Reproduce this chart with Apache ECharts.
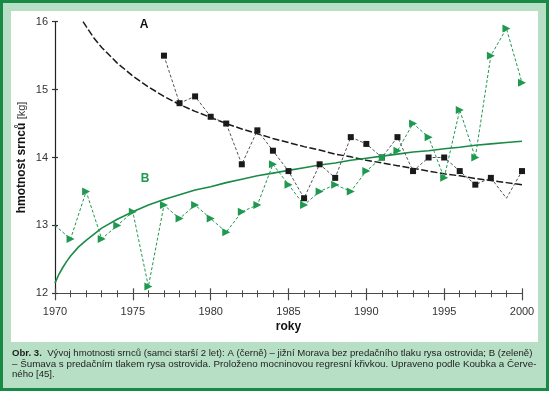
<!DOCTYPE html>
<html><head><meta charset="utf-8">
<script src="https://cdn.jsdelivr.net/npm/echarts@6/dist/echarts.min.js"></script>
<style>html,body{margin:0;padding:0;background:#fff}#c{width:550px;height:395px}</style>
</head><body><div id="c"></div>
<script>
// Data series A (black, southern Moravia)
const yearsA = [1977,1978,1979,1980,1981,1982,1983,1984,1985,1986,1987,1988,1989,1990,1991,1992,1993,1994,1995,1996,1997,1998,1999,2000];
const valuesA = [15.5,14.8,14.9,14.6,14.5,13.9,14.4,14.1,13.8,13.4,13.9,13.7,14.3,14.2,14.0,14.3,13.8,14.0,14.0,13.8,13.6,13.7,13.4,13.8];
// Data series B (green, Šumava)
const yearsB = [1970,1971,1972,1973,1974,1975,1976,1977,1978,1979,1980,1981,1982,1983,1984,1985,1986,1987,1988,1989,1990,1991,1992,1993,1994,1995,1996,1997,1998,1999,2000];
const valuesB = [13.0,12.8,13.5,12.8,13.0,13.2,12.1,13.3,13.1,13.3,13.1,12.9,13.2,13.3,13.9,13.6,13.3,13.5,13.6,13.5,13.8,14.0,14.1,14.5,14.3,13.7,14.7,14.0,15.5,15.9,15.1];
// Fitted power curves
const trendAYears = [1971.8,1972,1972.5,1973,1974,1975,1976,1977,1978,1979,1980,1981,1982,1983,1984,1985,1986,1987,1988,1989,1990,1991,1992,1993,1994,1995,1996,1997,1998,1999,2000];
const trendAValues = [16.0,15.93,15.76,15.62,15.39,15.20,15.04,14.90,14.78,14.68,14.59,14.50,14.42,14.35,14.28,14.22,14.16,14.11,14.05,14.01,13.96,13.92,13.88,13.84,13.80,13.76,13.73,13.69,13.66,13.63,13.60];
const trendBYears = [1970,1970.25,1970.5,1970.75,1971,1971.5,1972,1973,1974,1975,1976,1977,1978,1979,1980,1981,1982,1983,1984,1985,1986,1987,1988,1989,1990,1991,1992,1993,1994,1995,1996,1997,1998,1999,2000];
const trendBValues = [12.15,12.28,12.38,12.47,12.55,12.68,12.78,12.96,13.09,13.20,13.30,13.38,13.45,13.52,13.57,13.63,13.68,13.73,13.77,13.81,13.85,13.89,13.92,13.96,13.99,14.02,14.05,14.08,14.10,14.13,14.15,14.18,14.20,14.22,14.24];
// Axis ticks
const xTicks = [1970,1975,1980,1985,1990,1995,2000];
const yTicks = [12,13,14,15,16];
// No marker drawn at these points in the original
const noMarkerA = [1999];
const noMarkerB = [1970];
const squareMarkerB = [1991];

const GREEN = '#1f9850';
const GREEN_DARK = '#1a8b47';
const FONT = '"Liberation Sans", Arial, sans-serif';

const chart = echarts.init(document.getElementById('c'), null, {renderer:'canvas'});

const dataA = yearsA.map((y,i)=> noMarkerA.includes(y) ? {value:[y,valuesA[i]], symbol:'none'} : [y,valuesA[i]]);
const dataB = yearsB.map((y,i)=> {
  if (noMarkerB.includes(y)) return {value:[y,valuesB[i]], symbol:'none'};
  if (squareMarkerB.includes(y)) return {value:[y,valuesB[i]], symbol:'rect', symbolRotate:0, symbolSize:6};
  return [y,valuesB[i]];
});

const xBase = {type:'value', min:xTicks[0], max:xTicks[xTicks.length-1], splitLine:{show:false}, gridIndex:0, position:'bottom'};
const yBase = {type:'value', min:yTicks[0], max:yTicks[yTicks.length-1], interval:1, splitLine:{show:false}, gridIndex:0, position:'left'};
const tickColor = '#4a4a4a';

const caption1 = '{b|Obr. 3.}  Vývoj hmotnosti srnců (samci starší 2 let): A (černě) – jižní Morava bez predačního tlaku rysa ostrovida; B (zeleně)';
const caption2 = '– Šumava s predačním tlakem rysa ostrovida. Proloženo mocninovou regresní křivkou. Upraveno podle Koubka a Červe-';
const caption3 = 'ného [45].';

const capFont = '"Liberation Sans Narrow", "Arial Narrow", '+FONT;
const capStyle = {fontFamily:capFont, fontSize:9.6, fill:'#1e1e1e', textVerticalAlign:'middle'};

chart.setOption({
  animation:false,
  grid:{left:55, top:21.7, right:28, bottom:101.7},
  graphic:[
    {type:'rect', z:-10, shape:{x:1.5,y:1.5,width:546,height:388}, style:{fill:'#b6dfc6', stroke:'#178a45', lineWidth:3}},
    {type:'rect', z:-9, shape:{x:11,y:11,width:527,height:331}, style:{fill:'#ffffff'}},
    {type:'text', x:144, y:25, style:{text:'A', fontFamily:FONT, fontWeight:'bold', fontSize:12, fill:'#111', textAlign:'center', textVerticalAlign:'middle'}},
    {type:'text', x:145, y:179, style:{text:'B', fontFamily:FONT, fontWeight:'bold', fontSize:12, fill:GREEN, textAlign:'center', textVerticalAlign:'middle'}},
    {type:'text', x:12, y:353, style:Object.assign({text:caption1, rich:{b:{fontWeight:'bold', fontFamily:capFont, fontSize:9.6, fill:'#1e1e1e'}}}, capStyle)},
    {type:'text', x:12, y:364, style:Object.assign({text:caption2}, capStyle, {fontSize:9.8})},
    {type:'text', x:12, y:374.5, style:Object.assign({text:caption3}, capStyle)}
  ],
  xAxis:[
    Object.assign({}, xBase, {
      interval:5,
      axisLine:{lineStyle:{color:tickColor, width:1.2}},
      axisTick:{show:false},
      axisLabel:{fontFamily:FONT, fontSize:11, color:'#333', margin:13, formatter:(v)=>String(v)},
      name:'roky', nameLocation:'middle', nameGap:27, nameMoveOverlap:false,
      nameTextStyle:{fontFamily:FONT, fontWeight:'bold', fontSize:12, color:'#111'}
    }),
    Object.assign({}, xBase, {interval:1, offset:-3, axisLine:{show:false}, axisLabel:{show:false}, axisTick:{show:true, length:7, lineStyle:{color:tickColor, width:1}}}),
    Object.assign({}, xBase, {interval:5, offset:-5, axisLine:{show:false}, axisLabel:{show:false}, axisTick:{show:true, length:12, lineStyle:{color:tickColor, width:1.2}}})
  ],
  yAxis:[
    Object.assign({}, yBase, {
      axisLine:{show:true, lineStyle:{color:'#222', width:1.2}},
      axisTick:{show:false},
      axisLabel:{fontFamily:FONT, fontSize:11, color:'#333', margin:7},
      name:'{b|hmotnost srnců} {n|[kg]}', nameLocation:'middle', nameGap:27, nameMoveOverlap:false,
      nameTextStyle:{rich:{b:{fontFamily:FONT, fontWeight:'bold', fontSize:12, color:'#111'}, n:{fontFamily:FONT, fontSize:11, color:'#333'}}}
    }),
    Object.assign({}, yBase, {offset:-3, axisLine:{show:false}, axisLabel:{show:false}, axisTick:{show:true, length:6, lineStyle:{color:'#333', width:1.2}}})
  ],
  series:[
    {type:'line', name:'trendA', xAxisIndex:0, yAxisIndex:0, smooth:false, symbol:'none', z:3,
      data:trendAYears.map((y,i)=>[y,trendAValues[i]]),
      lineStyle:{color:'#1a1a1a', width:1.5, type:[7,2.5]}},
    {type:'line', name:'trendB', xAxisIndex:0, yAxisIndex:0, smooth:false, symbol:'none', z:3,
      data:trendBYears.map((y,i)=>[y,trendBValues[i]]),
      lineStyle:{color:GREEN_DARK, width:1.6}},
    {type:'line', name:'A', xAxisIndex:0, yAxisIndex:0, symbol:'rect', symbolSize:6, showSymbol:true, z:4,
      data:dataA, itemStyle:{color:'#1a1a1a'},
      lineStyle:{color:'#555', width:1, type:[3,2]}},
    {type:'line', name:'B', xAxisIndex:0, yAxisIndex:0, symbol:'triangle', symbolRotate:-90, symbolSize:8, showSymbol:true, z:5,
      data:dataB, itemStyle:{color:GREEN},
      lineStyle:{color:GREEN, width:1, type:[3,2]}}
  ]
});
</script>
</body></html>
